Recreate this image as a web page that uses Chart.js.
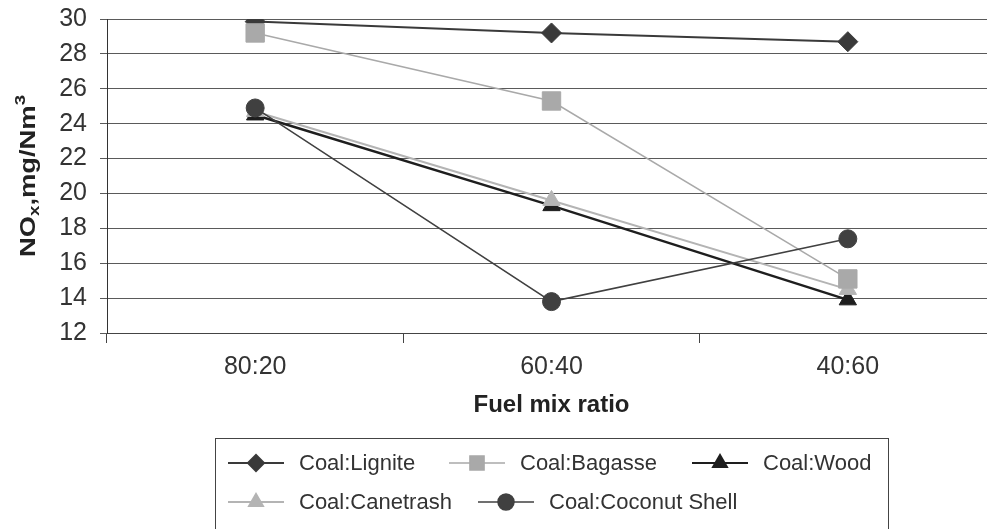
<!DOCTYPE html>
<html><head><meta charset="utf-8">
<script src="https://cdn.jsdelivr.net/npm/chart.js@4"></script>
<style>html,body{margin:0;padding:0;background:#fff;overflow:hidden;}#wrap{position:absolute;left:0;top:0;width:1010px;height:529px;}</style>
</head><body><div id="wrap"><canvas id="c" width="1010" height="529"></canvas></div>
<script>
const categories = ['80:20', '60:40', '40:60'];
const seriesNames = ['Coal:Lignite', 'Coal:Bagasse', 'Coal:Wood', 'Coal:Canetrash', 'Coal:Coconut Shell'];
const lignite = [29.85, 29.2, 28.7];
const bagasse = [29.2, 25.3, 15.1];
const wood = [24.5, 19.3, 13.9];
const canetrash = [24.7, 19.6, 14.5];
const coconut = [24.9, 13.8, 17.4];
const yMin = 12, yMax = 30, yStep = 2;
const xTitle = 'Fuel mix ratio';
const yTitleParts = [['NO', 'main'], ['x', 'sub'], [',mg/Nm', 'main'], ['3', 'sup']];

const FONT = "'Liberation Sans', Arial, sans-serif";
const styles = [
  {color:'#3a3a3a', width:2,   style:'rectRot',  r:10, order:4},
  {color:'#a9a9a9', width:1.5, style:'rect',     r:13, order:1},
  {color:'#1e1e1e', width:2.5, style:'triangle', r:10, order:3},
  {color:'#b4b4b4', width:2,   style:'triangle', r:10, order:2},
  {color:'#404040', width:1.5, style:'circle',   r:9,  order:0}
];
const values = [lignite, bagasse, wood, canetrash, coconut];

const datasets = seriesNames.map((n, i) => ({
  label: n, data: values[i],
  borderColor: styles[i].color, backgroundColor: styles[i].color,
  borderWidth: styles[i].width, pointStyle: styles[i].style,
  pointRadius: styles[i].r, pointHoverRadius: styles[i].r,
  pointBorderWidth: 1, pointBorderColor: styles[i].color, pointBackgroundColor: styles[i].color,
  order: styles[i].order, tension: 0, fill: false
}));

const legendLayout = [
  {x:228, y:463}, {x:449, y:463}, {x:692, y:463},
  {x:228, y:502}, {x:478, y:502}
];

const boxLegend = {
  id: 'boxLegend',
  afterDraw(chart) {
    const ctx = chart.ctx;
    ctx.save();
    ctx.strokeStyle = '#444';
    ctx.lineWidth = 1;
    ctx.strokeRect(215.5, 438.5, 673, 100);
    ctx.font = '22px ' + FONT;
    ctx.textBaseline = 'middle';
    ctx.textAlign = 'left';
    chart.data.datasets.forEach((ds, i) => {
      const p = legendLayout[i];
      ctx.strokeStyle = ds.borderColor;
      ctx.fillStyle = ds.backgroundColor;
      ctx.lineWidth = Math.min(ds.borderWidth, 2);
      ctx.beginPath();
      ctx.moveTo(p.x, p.y); ctx.lineTo(p.x + 56, p.y); ctx.stroke();
      const opts = {pointStyle: ds.pointStyle, rotation: 0, radius: ds.pointStyle === 'rect' ? 10 : 8, borderWidth: 1};
      Chart.helpers.drawPoint(ctx, opts, p.x + 28, p.y);
      ctx.fillStyle = '#333';
      ctx.fillText(ds.label, p.x + 71, p.y + 1);
    });
    ctx.restore();
  }
};

const yTitlePlugin = {
  id: 'yTitlePlugin',
  afterDraw(chart) {
    const ctx = chart.ctx;
    const ca = chart.chartArea;
    const sizes = {main: 22, sub: 15, sup: 15};
    const dys = {main: 0, sub: 4, sup: -10};
    ctx.save();
    ctx.fillStyle = '#222';
    ctx.textBaseline = 'alphabetic';
    ctx.textAlign = 'left';
    let W = 0;
    const widths = yTitleParts.map(([t, k]) => {
      ctx.font = 'bold ' + sizes[k] + 'px ' + FONT;
      const w = ctx.measureText(t).width; W += w; return w;
    });
    const targetLen = 162;
    const sx = targetLen / W;
    ctx.translate(35, (ca.top + ca.bottom) / 2);
    ctx.rotate(-Math.PI / 2);
    ctx.scale(sx, 1);
    let x = -W / 2;
    yTitleParts.forEach(([t, k], i) => {
      ctx.font = 'bold ' + sizes[k] + 'px ' + FONT;
      ctx.fillText(t, x, dys[k]);
      x += widths[i];
    });
    ctx.restore();
  }
};

new Chart(document.getElementById('c'), {
  type: 'line',
  data: {labels: categories, datasets},
  options: {
    responsive: false, animation: false,
    layout: {padding: {left: 0, right: 4, top: 19, bottom: 109}},
    plugins: {legend: {display: false}, tooltip: {enabled: false}},
    scales: {
      x: {
        offset: true,
        grid: {display: true, drawOnChartArea: false, offset: true, tickLength: 10, color: '#444'},
        border: {display: true, color: '#444'},
        ticks: {font: {family: FONT, size: 25}, color: '#333', padding: 9},
        title: {display: true, text: xTitle, font: {family: FONT, size: 24, weight: 'bold'}, color: '#222', padding: {top: 0, bottom: 0}},
        afterFit(s) { s.height = 87; s.paddingLeft = 0; s.paddingRight = 0; }
      },
      y: {
        min: yMin, max: yMax,
        grid: {color: '#5a5a5a', tickLength: 7, lineWidth: 1},
        border: {display: true, color: '#333'},
        ticks: {stepSize: yStep, font: {family: FONT, size: 25}, color: '#333', padding: 13},
        title: {display: false},
        afterFit(s) { s.width = 107; s.paddingTop = 0; s.paddingBottom = 0; }
      }
    }
  },
  plugins: [boxLegend, yTitlePlugin]
});
</script>
</body></html>
